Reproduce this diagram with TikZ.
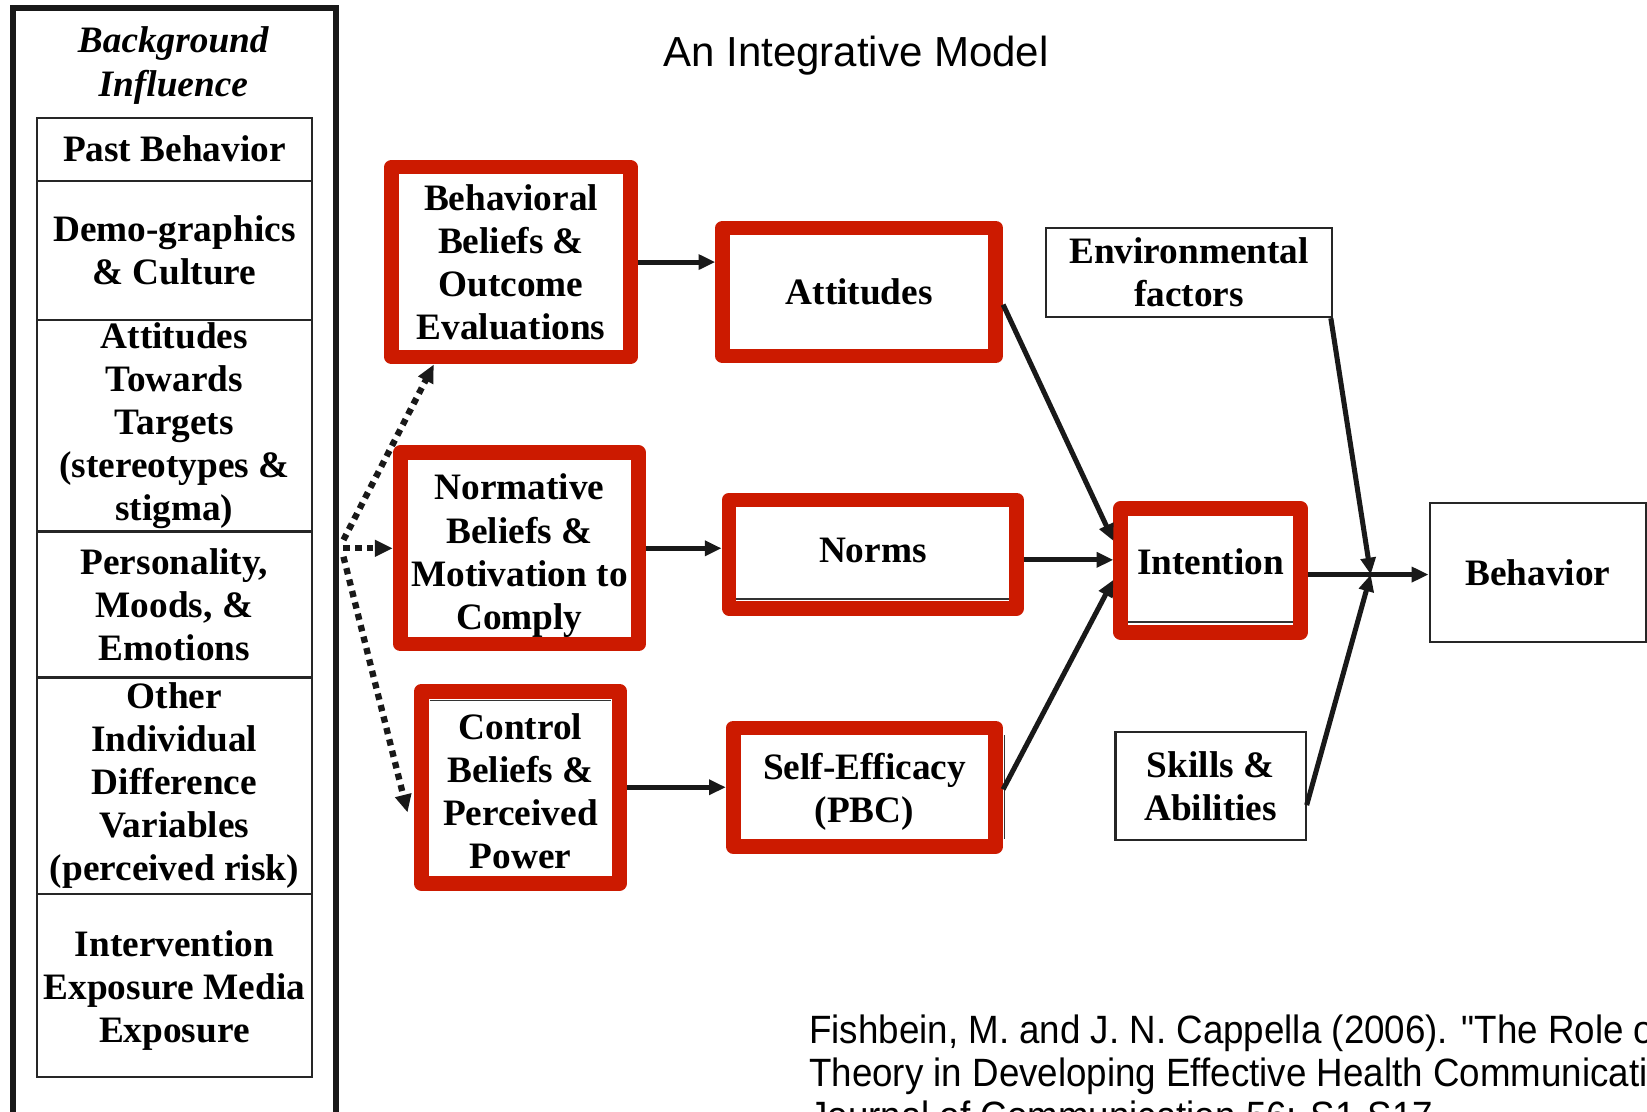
\documentclass[tikz,border=0pt]{standalone}
\usepackage{fontspec}
\setmainfont{Liberation Serif}
\newfontfamily\titlefont{Liberation Sans}
\newfontfamily\citefont[FakeStretch=0.93]{Liberation Sans}
\usetikzlibrary{arrows.meta,calc}
\definecolor{boxred}{RGB}{204,26,0}
\begin{document}
\begin{tikzpicture}[x=0.5pt,y=-0.5pt,
  txt/.style={font=\fontsize{17.75}{20.5}\selectfont\bfseries, align=center, inner sep=1pt},
  redbox/.style={txt, draw=boxred, line width=7pt, line join=round, fill=white},
  thinbox/.style={txt, draw=black!85, line width=1pt},
  lbox/.style={thinbox, minimum width=131pt},
  conn/.style={line width=2.4pt, black!90, -{Triangle[length=8pt,width=7pt]}},
  dotconn/.style={line width=3pt, black!90, dash pattern=on 3pt off 2.6pt, -{Triangle[length=8.5pt,width=7.5pt]}},
  citestyle/.style={font=\citefont\fontsize{18.8}{20.5}\selectfont, anchor=base west, inner sep=0pt},
]
\useasboundingbox (0,0) rectangle (1568,1058);
\clip (0,0) rectangle (1568,1058);
\fill[white] (0,0) rectangle (1568,1058);

% background panel
\node[draw=black!90, line width=2.8pt, minimum width=153.75pt, minimum height=533.5pt, inner sep=0pt] (bg) at (166.25,541.5) {};
\node[font=\fontsize{17.75}{21}\selectfont\bfseries\itshape, align=center] (bgt) at (165,62) {Background\\Influence};
\node[lbox, minimum height=30pt] (pb) at (166,142) {Past Behavior};
\node[lbox, minimum height=66.5pt] (demo) at (166,238.5) {Demo-graphics\\\& Culture};
\node[lbox, minimum height=100.5pt] (att2) at (166,405.5) {Attitudes\\Towards\\Targets\\(stereotypes \&\\stigma)};
\node[lbox, minimum height=69.5pt] (pers) at (166,575.5) {Personality,\\Moods, \&\\Emotions};
\node[lbox, minimum height=103pt] (oth) at (166,748) {Other\\Individual\\Difference\\Variables\\(perceived risk)};
\node[lbox, minimum height=87pt] (intv) at (166,938) {};
\node[txt] (intvt) at ([yshift=-2.5pt]intv.center) {Intervention\\Exposure Media\\Exposure};

% title
\node[font=\titlefont\fontsize{20}{24}\selectfont] (title) at (815,53) {An Integrative Model};

% red boxes
\node[redbox, minimum width=113.5pt, minimum height=90.5pt] (bb) at (486.5,249.5) {Behavioral\\Beliefs \&\\Outcome\\Evaluations};
\node[redbox, minimum width=130pt, minimum height=61pt] (att) at (818,278) {Attitudes};
\node[redbox, minimum width=113.5pt, minimum height=91pt] (nb) at (494.5,522) {};
\node[txt] (nbt) at ([yshift=-3.5pt]nb.center) {Normative\\Beliefs \&\\Motivation to\\Comply};
\node[redbox, minimum width=137pt, minimum height=51.5pt] (norms) at (831,527.5) {};
\node[txt] (normst) at ([yshift=1.5pt]norms.center) {Norms};
\node[redbox, minimum width=94.5pt, minimum height=91.5pt] (cb) at (495.5,749.5) {};
\node[txt] (cbt) at ([yshift=-2pt]cb.center) {Control\\Beliefs \&\\Perceived\\Power};
\node[redbox, minimum width=125pt, minimum height=56.5pt] (se) at (823,749.5) {};
\node[txt] (set) at ([yshift=-2pt]se.center) {Self-Efficacy\\(PBC)};
\node[redbox, minimum width=85.5pt, minimum height=59pt] (int) at (1152.5,543) {};
\node[txt] (intt) at ([yshift=4pt]int.center) {Intention};

% thin boxes
\node[thinbox, minimum width=136pt, minimum height=42.5pt] (env) at (1132,259.5) {Environmental\\factors};
\node[thinbox, minimum width=90.5pt, minimum height=51.5pt] (skl) at (1152.5,748.5) {Skills \&\\Abilities};
\node[thinbox, minimum width=103pt, minimum height=66pt] (beh) at (1464,545) {Behavior};

% remnants of original box borders inside red boxes
\draw[line width=0.8pt, black!80] ([xshift=7pt,yshift=8pt]norms.south west) -- ([xshift=-7pt,yshift=8pt]norms.south east);
\draw[line width=0.8pt, black!80] ([xshift=7.5pt,yshift=-8pt]cb.north west) -- ([xshift=-7.5pt,yshift=-8pt]cb.north east);
\draw[line width=0.8pt, black!80] ([xshift=7pt,yshift=8.5pt]int.south west) -- ([xshift=-7pt,yshift=8.5pt]int.south east);
\draw[line width=0.8pt, black!80] ([xshift=0.6pt,yshift=-7pt]se.north east) -- ([xshift=0.6pt,yshift=7pt]se.south east);

% dotted arrows
\coordinate (d0) at (327,514);
\coordinate (d1) at (327,522);
\coordinate (d2) at (327,530);
\draw[dotconn] (d0) -- ([xshift=23.5pt]bb.south west);
\draw[dotconn] (d1) -- (nb.west);
\draw[dotconn] (d2) -- ([xshift=-3pt,yshift=-12pt]cb.west);

% solid arrows
\draw[conn] (bb.east) -- (bb.east -| att.west);
\draw[conn] (nb.east) -- (nb.east -| norms.west);
\draw[conn] (cb.east) -- (cb.east -| se.west);
\draw[conn] ([yshift=-6pt]att.east) -- ([yshift=14pt]int.west);
\draw[conn] ([yshift=-2.75pt]norms.east) -- ([yshift=-2.75pt]norms.east -| int.west);
\draw[conn] ([yshift=-1pt]se.east) -- ([yshift=-4.5pt]int.west);
\draw[conn] ([yshift=-2pt]int.east) -- ([yshift=-2pt]int.east -| beh.west);
\coordinate (j) at (1305,547);
\draw[conn] ([xshift=-1pt]env.south east) -- (j);
\draw[conn] ([yshift=-9pt]skl.east) -- (j);

% citation (cut off at the picture's edge, as in the original)
\node[citestyle] (c1) at (770,993) {Fishbein, M. and J. N. Cappella (2006). "The Role of};
\node[citestyle] (c2) at (770,1034) {Theory in Developing Effective Health Communications."};
\node[citestyle] (c3) at (770,1075) {Journal of Communication 56: S1-S17.};
\end{tikzpicture}
\end{document}
